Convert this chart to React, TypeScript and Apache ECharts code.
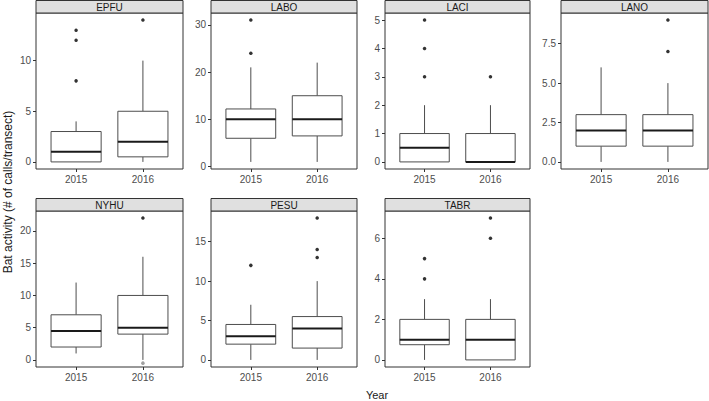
import React, { useEffect, useRef } from "react";
import * as echarts from "echarts";

const years = ["2015", "2016"];
const species = ["EPFU", "LABO", "LACI", "LANO", "NYHU", "PESU", "TABR"];

// box stats per year: [lower whisker, Q1, median, Q3, upper whisker]
const epfuBox = [[0, 0, 1, 3, 4], [0, 0.5, 2, 5, 10]];
const epfuOut = [[8, 12, 13], [14]];
const laboBox = [[1, 6, 10, 12.2, 21], [1, 6.5, 10, 15, 22]];
const laboOut = [[24, 31], []];
const laciBox = [[0, 0, 0.5, 1, 2], [0, 0, 0, 1, 2]];
const laciOut = [[3, 4, 5], [3]];
const lanoBox = [[0, 1, 2, 3, 6], [0, 1, 2, 3, 5]];
const lanoOut = [[], [7, 9]];
const nyhuBox = [[1, 2, 4.5, 7, 12], [0, 4, 5, 10, 16]];
const nyhuOut = [[], [22]];
const nyhuFaint = [[], [-0.5]];
const pesuBox = [[0, 2, 3, 4.5, 7], [0, 1.5, 4, 5.5, 10]];
const pesuOut = [[12], [13, 14, 18]];
const tabrBox = [[0, 0.75, 1, 2, 3], [0, 0, 1, 2, 3]];
const tabrOut = [[4, 5], [6, 7]];

const epfuTicks = [0, 5, 10];
const laboTicks = [0, 10, 20, 30];
const laciTicks = [0, 1, 2, 3, 4, 5];
const lanoTicks = [0, 2.5, 5, 7.5];
const nyhuTicks = [0, 5, 10, 15, 20];
const pesuTicks = [0, 5, 10, 15];
const tabrTicks = [0, 2, 4, 6];

const boxes = [epfuBox, laboBox, laciBox, lanoBox, nyhuBox, pesuBox, tabrBox];
const outs = [epfuOut, laboOut, laciOut, lanoOut, nyhuOut, pesuOut, tabrOut];
const faint = [null, null, null, null, nyhuFaint, null, null];
const ticks = [epfuTicks, laboTicks, laciTicks, lanoTicks, nyhuTicks, pesuTicks, tabrTicks];
const decimals = [0, 0, 0, 1, 0, 0, 0];

// layout (px)
const colLeft = [36, 211, 385, 561];
const colWidth = [147, 146, 145, 147];
const rowTop = [13, 211];
const plotH = 156;
const stripH = 12.5;

const FONT = "Arial, 'Liberation Sans', Helvetica, sans-serif";

export default function App() {
  const ref = useRef<HTMLDivElement>(null);
  useEffect(() => {
    document.body.style.margin = "0";
    if (!ref.current) return;
    const chart = echarts.init(ref.current, null, { renderer: "svg" });

    const grids: any[] = [];
    const xAxes: any[] = [];
    const yAxes: any[] = [];
    const series: any[] = [];
    const graphics: any[] = [];

    species.forEach((sp, i) => {
      const r = Math.floor(i / 4);
      const c = i % 4;
      const left = colLeft[c];
      const width = colWidth[c];
      const top = rowTop[r];
      grids.push({
        left, top, width, height: plotH,
        show: true, borderColor: "#333", borderWidth: 1, backgroundColor: "#fff",
      });
      const vals: number[] = [];
      boxes[i].forEach((b) => vals.push(...b));
      outs[i].forEach((o) => vals.push(...o));
      const lo = Math.min(...vals);
      const hi = Math.max(...vals);
      const pad = (hi - lo) * 0.05;
      xAxes.push({
        gridIndex: i, type: "value", min: 0.4, max: 2.6, position: "bottom",
        axisLine: { show: false, onZero: false },
        splitLine: { show: false },
        axisTick: { show: true, length: 3, customValues: [1, 2], lineStyle: { color: "#333" } },
        axisLabel: {
          customValues: [1, 2], margin: 5, color: "#4d4d4d", fontSize: 10, fontFamily: FONT,
          formatter: (v: number) => years[Math.round(v) - 1] || "",
        },
      });
      yAxes.push({
        gridIndex: i, type: "value", min: lo - pad, max: hi + pad, position: "left",
        axisLine: { show: false, onZero: false },
        splitLine: { show: false },
        axisTick: { show: true, length: 3, customValues: ticks[i], lineStyle: { color: "#333" } },
        axisLabel: {
          customValues: ticks[i], margin: 5, color: "#4d4d4d", fontSize: 10, fontFamily: FONT,
          formatter: (v: number) => v.toFixed(decimals[i]),
        },
      });
      series.push({
        type: "custom",
        xAxisIndex: i, yAxisIndex: i,
        data: boxes[i].map((b, k) => [k + 1, ...b]),
        renderItem: (params: any, api: any) => {
          const x = api.value(0);
          const pLow = api.coord([x, api.value(1)]);
          const pQ1 = api.coord([x, api.value(2)]);
          const pMed = api.coord([x, api.value(3)]);
          const pQ3 = api.coord([x, api.value(4)]);
          const pHigh = api.coord([x, api.value(5)]);
          const hw = api.size([0.75, 0])[0] / 2;
          const cx = pMed[0];
          const stroke = { stroke: "#4d4d4d", lineWidth: 1, fill: "none" };
          return {
            type: "group",
            children: [
              { type: "line", shape: { x1: cx, y1: pQ3[1], x2: cx, y2: pHigh[1] }, style: stroke },
              { type: "line", shape: { x1: cx, y1: pQ1[1], x2: cx, y2: pLow[1] }, style: stroke },
              {
                type: "rect",
                shape: { x: cx - hw, y: pQ3[1], width: 2 * hw, height: pQ1[1] - pQ3[1] },
                style: { fill: "#fff", stroke: "#4d4d4d", lineWidth: 1 },
              },
              {
                type: "line",
                shape: { x1: cx - hw, y1: pMed[1], x2: cx + hw, y2: pMed[1] },
                style: { stroke: "#1a1a1a", lineWidth: 2 },
              },
            ],
          };
        },
        silent: true,
      });
      const pts: number[][] = [];
      outs[i].forEach((o, k) => o.forEach((v) => pts.push([k + 1, v])));
      series.push({
        type: "scatter", xAxisIndex: i, yAxisIndex: i, data: pts,
        symbolSize: 3.5, itemStyle: { color: "#000" }, silent: true, z: 5,
      });
      const f = faint[i];
      if (f) {
        const fp: number[][] = [];
        f.forEach((o, k) => o.forEach((v) => fp.push([k + 1, v])));
        series.push({
          type: "scatter", xAxisIndex: i, yAxisIndex: i, data: fp,
          symbolSize: 3.5, itemStyle: { color: "#888" }, silent: true, z: 5,
        });
      }
      graphics.push({
        type: "rect",
        shape: { x: left, y: top - stripH, width, height: stripH },
        style: { fill: "#e0e0e0", stroke: "#333", lineWidth: 1 },
      });
      graphics.push({
        type: "text",
        x: left + width / 2, y: top - stripH / 2 + 0.5,
        style: {
          text: sp, fill: "#1a1a1a", fontSize: 10, fontFamily: FONT,
          align: "center", verticalAlign: "middle",
        },
      });
    });

    graphics.push({
      type: "text", x: 7.5, y: 192, rotation: Math.PI / 2,
      style: {
        text: "Bat activity (# of calls/transect)", fill: "#1a1a1a", fontSize: 12, fontFamily: FONT,
        align: "center", verticalAlign: "middle",
      },
    });
    graphics.push({
      type: "text", x: 377, y: 395,
      style: {
        text: "Year", fill: "#1a1a1a", fontSize: 11, fontFamily: FONT,
        align: "center", verticalAlign: "middle",
      },
    });

    chart.setOption({
      animation: false,
      backgroundColor: "#fff",
      grid: grids,
      xAxis: xAxes,
      yAxis: yAxes,
      series,
      graphic: graphics,
    });
    return () => chart.dispose();
  }, []);
  return <div ref={ref} style={{ width: 709, height: 401 }} />;
}
